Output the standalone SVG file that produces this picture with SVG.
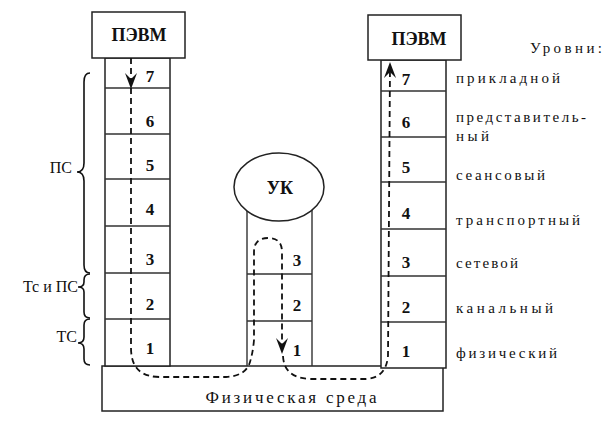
<svg xmlns="http://www.w3.org/2000/svg" width="616" height="428" viewBox="0 0 616 428">
<style>
.box{fill:#fff;stroke:#222;stroke-width:1.5}
.ln{fill:none;stroke:#333;stroke-width:1.4}
text{font-family:'Liberation Serif','Times New Roman',Tinos,'DejaVu Serif','Noto Serif',serif;fill:#111}
.h{font-size:18px;font-weight:bold;text-anchor:middle}
.n{font-size:17px;font-weight:bold;text-anchor:middle}
.lab{font-size:15px}
.br{fill:none;stroke:#111;stroke-width:1.6}
.bt{font-size:16px;text-anchor:end}
.dash{fill:none;stroke:#111;stroke-width:1.8;stroke-dasharray:6 4}
.ah{fill:#111}
</style>
<defs>
<path id="ah" d="M0,0 L-6,-16 L0,-10 L6,-16 Z"/>
</defs>
<rect width="616" height="428" fill="#fff"/>

<g id="medium">
<rect class="box" x="102" y="366" width="341" height="45"/>
<text x="291" y="403" font-size="17" text-anchor="middle" textLength="171" lengthAdjust="spacing">Физическая среда</text>
</g>

<g id="stack-left">
<rect class="box" x="105" y="58" width="65" height="308"/>
<path class="ln" d="M105,88H170M105,134H170M105,179H170M105,226H170M105,273H170M105,319H170"/>
<text class="n" x="150" y="82">7</text>
<text class="n" x="150" y="127">6</text>
<text class="n" x="150" y="171">5</text>
<text class="n" x="150" y="215">4</text>
<text class="n" x="150" y="265">3</text>
<text class="n" x="150" y="310">2</text>
<text class="n" x="150" y="354">1</text>
</g>

<g id="stack-mid">
<path class="ln" d="M247,210V366M312,210V366M247,274H312M247,321H312"/>
<text class="n" x="297" y="266">3</text>
<text class="n" x="297" y="311">2</text>
<text class="n" x="297" y="356">1</text>
</g>

<g id="uk">
<ellipse class="box" cx="279" cy="187" rx="45" ry="34"/>
<text class="h" x="280" y="194">УК</text>
</g>

<g id="stack-right">
<rect class="box" x="381" y="60" width="65" height="308"/>
<path class="ln" d="M381,91H446M381,137H446M381,182H446M381,229H446M381,276H446M381,322H446"/>
<text class="n" x="406" y="85">7</text>
<text class="n" x="406" y="128">6</text>
<text class="n" x="406" y="173">5</text>
<text class="n" x="406" y="219">4</text>
<text class="n" x="406" y="268">3</text>
<text class="n" x="406" y="313">2</text>
<text class="n" x="406" y="357">1</text>
</g>

<g id="pevm-left">
<rect class="box" x="92" y="12" width="93" height="46"/>
<text class="h" x="139" y="41">ПЭВМ</text>
</g>

<g id="pevm-right">
<rect class="box" x="368" y="15" width="93" height="45"/>
<text class="h" x="419" y="45">ПЭВМ</text>
</g>

<g id="levels">
<text class="lab" x="530" y="53" textLength="72" lengthAdjust="spacing">Уровни:</text>
<text class="lab" x="456" y="83" textLength="104" lengthAdjust="spacing">прикладной</text>
<text class="lab" x="456" y="122" textLength="130" lengthAdjust="spacing">представитель-</text>
<text class="lab" x="456" y="141" textLength="33" lengthAdjust="spacing">ный</text>
<text class="lab" x="456" y="180" textLength="89" lengthAdjust="spacing">сеансовый</text>
<text class="lab" x="456" y="225" textLength="124" lengthAdjust="spacing">транспортный</text>
<text class="lab" x="456" y="268" textLength="62" lengthAdjust="spacing">сетевой</text>
<text class="lab" x="456" y="313" textLength="97" lengthAdjust="spacing">канальный</text>
<text class="lab" x="456" y="358" textLength="101" lengthAdjust="spacing">физический</text>
</g>

<g id="braces">
<path class="br" d="M90,73 Q84,73 84,82 L84,163 Q84,172 77,172 Q84,172 84,181 L84,265 Q84,273 90,273"/>
<path class="br" d="M90,274 Q84,274 84,280 L84,282 Q84,287 78,287 Q84,287 84,292 L84,312 Q84,318 90,318"/>
<path class="br" d="M90,319 Q84,319 84,325 L84,337 Q84,343 78,343 Q84,343 84,349 L84,359 Q84,365 90,365"/>
<text class="bt" x="72" y="173">ПС</text>
<text class="bt" x="78" y="292">Тс и ПС</text>
<text class="bt" x="77" y="342">ТС</text>
</g>

<g id="connectors">
<path class="dash" d="M131,58 L131,348 Q131,377 160,377 L226,377 Q246,376 250,362 Q253,352 254,340 L254,252 Q254,238 268,238 Q282,238 282,252 L282,352"/>
<path class="dash" d="M283,356 Q284,378 310,379 L366,379 Q386,378 388,356 L390,66"/>
<use href="#ah" class="ah" transform="translate(131,89)"/>
<use href="#ah" class="ah" transform="translate(282,354)"/>
<use href="#ah" class="ah" transform="translate(390,62) rotate(180)"/>
</g>
</svg>
